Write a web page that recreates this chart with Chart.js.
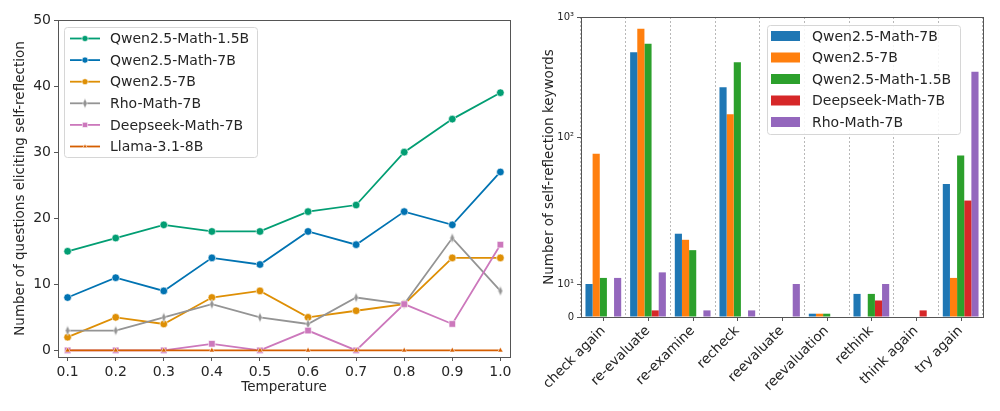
<!DOCTYPE html>
<html>
<head>
<meta charset="utf-8">
<script src="https://cdn.jsdelivr.net/npm/chart.js@4.4.0/dist/chart.umd.min.js"></script>
<style>
  body { margin: 0; background: #fff; }
  #wrap { position: relative; width: 1000px; height: 411px; }
  #lineChart { position: absolute; left: 0; top: 0; }
  #barChart { position: absolute; left: 520px; top: 0; }
</style>
</head>
<body>
<div id="wrap">
  <canvas id="lineChart" width="520" height="411"></canvas>
  <canvas id="barChart" width="480" height="411"></canvas>
</div>
<script>
// left panel: questions eliciting self-reflection per temperature
const temperatures = [0.1, 0.2, 0.3, 0.4, 0.5, 0.6, 0.7, 0.8, 0.9, 1.0];
const qwenMath15B = [15, 17, 19, 18, 18, 21, 22, 30, 35, 39];
const qwenMath7B = [8, 11, 9, 14, 13, 18, 16, 21, 19, 27];
const qwen7B = [2, 5, 4, 8, 9, 5, 6, 7, 14, 14];
const rhoMath7B = [3, 3, 5, 7, 5, 4, 8, 7, 17, 9];
const deepseekMath7B = [0, 0, 0, 1, 0, 3, 0, 7, 4, 16];
const llama8B = [0, 0, 0, 0, 0, 0, 0, 0, 0, 0];
const lineYTicks = [0, 10, 20, 30, 40, 50];

// right panel: number of self-reflection keywords
const keywords = ['check again', 're-evaluate', 're-examine', 'recheck', 'reevaluate',
                  'reevaluation', 'rethink', 'think again', 'try again'];
const kwQwenMath7B = [10, 510, 22, 260, 0, 1, 7, 0, 48];
const kwQwen7B = [77, 800, 20, 155, 0, 1, 0, 0, 11];
const kwQwenMath15B = [11, 600, 17, 420, 0, 1, 7, 0, 75];
const kwDeepseekMath7B = [0, 2, 0, 0, 0, 0, 5, 2, 37];
const kwRhoMath7B = [11, 12, 2, 2, 10, 0, 10, 0, 350];
const barYTicks = [0, 10, 100, 1000];
const barYTickLabels = ['0', '10\u00b9', '10\u00b2', '10\u00b3'];

Chart.defaults.font.family = "'DejaVu Sans', sans-serif";
Chart.defaults.color = '#262626';

// symlog-like axis: linear below the first break, logarithmic above
class SegmentLogScale extends Chart.LinearScale {
    static id = 'segmentlog';
    static defaults = Chart.LinearScale.defaults;

    buildTicks() {
        return this.options.breaks.map(v => ({ value: v }));
    }

    _fraction(v) {
        const b = this.options.breaks, s = this.options.shares;
        if (v <= b[0]) return 0;
        let cum = 0;
        for (let i = 0; i < s.length; i++) {
            if (v <= b[i + 1] || i === s.length - 1) {
                if (i === 0) return cum + s[0] * (v - b[0]) / (b[1] - b[0]);
                return cum + s[i] * Math.log10(v / b[i]) / Math.log10(b[i + 1] / b[i]);
            }
            cum += s[i];
        }
        return cum;
    }

    getPixelForValue(v) {
        return this.getPixelForDecimal(this._fraction(v));
    }

    getValueForPixel(p) {
        const f = this.getDecimalForPixel(p);
        const b = this.options.breaks, s = this.options.shares;
        let cum = 0;
        for (let i = 0; i < s.length; i++) {
            if (f <= cum + s[i] || i === s.length - 1) {
                const t = (f - cum) / s[i];
                if (i === 0) return b[0] + t * (b[1] - b[0]);
                return b[i] * Math.pow(b[i + 1] / b[i], t);
            }
            cum += s[i];
        }
        return b[b.length - 1];
    }
}
Chart.register(SegmentLogScale);

function thinDiamond(color) {
    const c = document.createElement('canvas');
    c.width = 6; c.height = 11;
    const g = c.getContext('2d');
    g.beginPath();
    g.moveTo(3, 0.5); g.lineTo(5.2, 5.5); g.lineTo(3, 10.5); g.lineTo(0.8, 5.5);
    g.closePath();
    g.fillStyle = color; g.fill();
    g.strokeStyle = '#fff'; g.lineWidth = 0.5; g.stroke();
    return c;
}

// frame around the plot + legend box drawn inside the axes
const framePlugin = {
    id: 'frame',
    afterDraw(chart, args, opts) {
        const { ctx, chartArea: a } = chart;
        ctx.save();
        ctx.strokeStyle = '#555';
        ctx.lineWidth = 1;
        ctx.strokeRect(Math.round(a.left) + 0.5, Math.round(a.top) + 0.5,
                       Math.round(a.right - a.left), Math.round(a.bottom - a.top));

        if (opts.centerTicks) {
            const xs = chart.scales.x;
            ctx.beginPath();
            xs.ticks.forEach((t, i) => {
                const x = Math.round(xs.getPixelForTick(i)) + 0.5;
                ctx.moveTo(x, a.bottom);
                ctx.lineTo(x, a.bottom + 4);
            });
            ctx.stroke();
        }

        const lg = opts.legend;
        if (lg) {
            ctx.fillStyle = 'rgba(255,255,255,0.85)';
            ctx.strokeStyle = '#d6d6d6';
            ctx.beginPath();
            ctx.roundRect(lg.x + 0.5, lg.y + 0.5, lg.w, lg.h, 3);
            ctx.fill();
            ctx.stroke();
            ctx.font = "14px 'DejaVu Sans', sans-serif";
            ctx.textBaseline = 'middle';
            chart.data.datasets.forEach((ds, i) => {
                const y = lg.y + lg.first + i * lg.rowH;
                if (lg.kind === 'line') {
                    ctx.strokeStyle = ds.borderColor;
                    ctx.lineWidth = ds.borderWidth;
                    ctx.beginPath();
                    ctx.moveTo(lg.x + 6, y);
                    ctx.lineTo(lg.x + 36, y);
                    ctx.stroke();
                    ctx.fillStyle = ds.pointBackgroundColor;
                    ctx.strokeStyle = '#fff';
                    ctx.lineWidth = 0.6;
                    Chart.helpers.drawPoint(ctx, {
                        pointStyle: ds.pointStyle, radius: ds.pointRadius * 0.8,
                        rotation: 0, borderWidth: 0.6
                    }, lg.x + 21, y);
                } else {
                    ctx.fillStyle = ds.backgroundColor;
                    ctx.fillRect(lg.x + 4, y - 5, 29, 10);
                }
                ctx.fillStyle = '#262626';
                ctx.fillText(ds.label, lg.x + lg.textX, y + 1);
            });
        }
        ctx.restore();
    }
};

function lineSet(label, values, color, style, radius) {
    return {
        label: label,
        data: temperatures.map((t, i) => ({ x: t, y: values[i] })),
        borderColor: color,
        backgroundColor: color,
        pointBackgroundColor: color,
        pointBorderColor: '#fff',
        pointBorderWidth: 0.6,
        pointStyle: style,
        pointRadius: radius,
        borderWidth: 1.8,
        tension: 0
    };
}

const lineSets = [
    lineSet('Qwen2.5-Math-1.5B', qwenMath15B, '#029e73', 'circle', 3.8),
    lineSet('Qwen2.5-Math-7B', qwenMath7B, '#0173b2', 'circle', 3.8),
    lineSet('Qwen2.5-7B', qwen7B, '#de8f05', 'circle', 3.8),
    lineSet('Rho-Math-7B', rhoMath7B, '#949494', thinDiamond('#949494'), 4),
    lineSet('Deepseek-Math-7B', deepseekMath7B, '#cc78bc', 'rect', 4.6),
    lineSet('Llama-3.1-8B', llama8B, '#d55e00', 'triangle', 3.2)
];
// later series on top, like the original
lineSets.forEach((ds, i) => { ds.order = -i; });

new Chart(document.getElementById('lineChart').getContext('2d'), {
    type: 'line',
    data: { datasets: lineSets },
    options: {
        responsive: false,
        animation: false,
        layout: { padding: { top: 20, right: 10, left: 0, bottom: 0 } },
        plugins: {
            legend: { display: false },
            tooltip: { enabled: false },
            frame: { legend: { kind: 'line', x: 64, y: 27, w: 193, h: 130, first: 11.5, rowH: 21.6, textX: 46 } }
        },
        scales: {
            x: {
                type: 'linear',
                min: 0.08,
                max: 1.02,
                afterBuildTicks: s => { s.ticks = temperatures.map(v => ({ value: v })); },
                afterFit: s => { s.height = 54; },
                ticks: { font: { size: 14 }, padding: 3, maxRotation: 0, callback: v => v.toFixed(1) },
                grid: { drawOnChartArea: false, tickLength: 4, color: '#555' },
                border: { display: false },
                title: { display: true, text: 'Temperature', font: { size: 13.5 }, padding: { top: 0, bottom: 15 } }
            },
            y: {
                min: -1,
                max: 50,
                afterBuildTicks: s => { s.ticks = lineYTicks.map(v => ({ value: v })); },
                afterFit: s => { s.width = 58; },
                ticks: { font: { size: 14 }, padding: 3 },
                grid: { drawOnChartArea: false, tickLength: 4, color: '#555' },
                border: { display: false },
                title: { display: true, text: 'Number of questions eliciting self-reflection', font: { size: 13.5 }, padding: { top: 12, bottom: 0 } }
            }
        }
    },
    plugins: [framePlugin]
});

new Chart(document.getElementById('barChart').getContext('2d'), {
    type: 'bar',
    data: {
        labels: keywords,
        datasets: [
            { label: 'Qwen2.5-Math-7B', data: kwQwenMath7B, backgroundColor: '#1f77b4' },
            { label: 'Qwen2.5-7B', data: kwQwen7B, backgroundColor: '#ff7f0e' },
            { label: 'Qwen2.5-Math-1.5B', data: kwQwenMath15B, backgroundColor: '#2ca02c' },
            { label: 'Deepseek-Math-7B', data: kwDeepseekMath7B, backgroundColor: '#d62728' },
            { label: 'Rho-Math-7B', data: kwRhoMath7B, backgroundColor: '#9467bd' }
        ]
    },
    options: {
        responsive: false,
        animation: false,
        categoryPercentage: 0.8,
        barPercentage: 1.0,
        layout: { padding: { top: 17, right: 17, left: 0, bottom: 0 } },
        plugins: {
            legend: { display: false },
            tooltip: { enabled: false },
            frame: { centerTicks: true, legend: { kind: 'bar', x: 247, y: 25, w: 193, h: 109, first: 11, rowH: 21.5, textX: 45 } }
        },
        scales: {
            x: {
                afterFit: s => { s.height = 94; },
                ticks: { font: { size: 13.5 }, minRotation: 45, maxRotation: 45, autoSkip: false, padding: 6 },
                grid: { offset: true, drawTicks: false, color: '#b8b8b8', lineWidth: 1 },
                border: { display: false, dash: [2, 2] }
            },
            y: {
                type: 'segmentlog',
                min: 0,
                max: 1000,
                breaks: barYTicks,
                shares: [0.110, 0.4895, 0.4005],
                afterFit: s => { s.width = 61; },
                ticks: { font: { size: 10 }, padding: 3, callback: (v, i) => barYTickLabels[i] },
                grid: { drawOnChartArea: false, tickLength: 4, color: '#555' },
                border: { display: false },
                title: { display: true, text: 'Number of self-reflection keywords', font: { size: 13.5 }, padding: { top: 21, bottom: 0 } }
            }
        }
    },
    plugins: [framePlugin]
});
</script>
</body>
</html>
